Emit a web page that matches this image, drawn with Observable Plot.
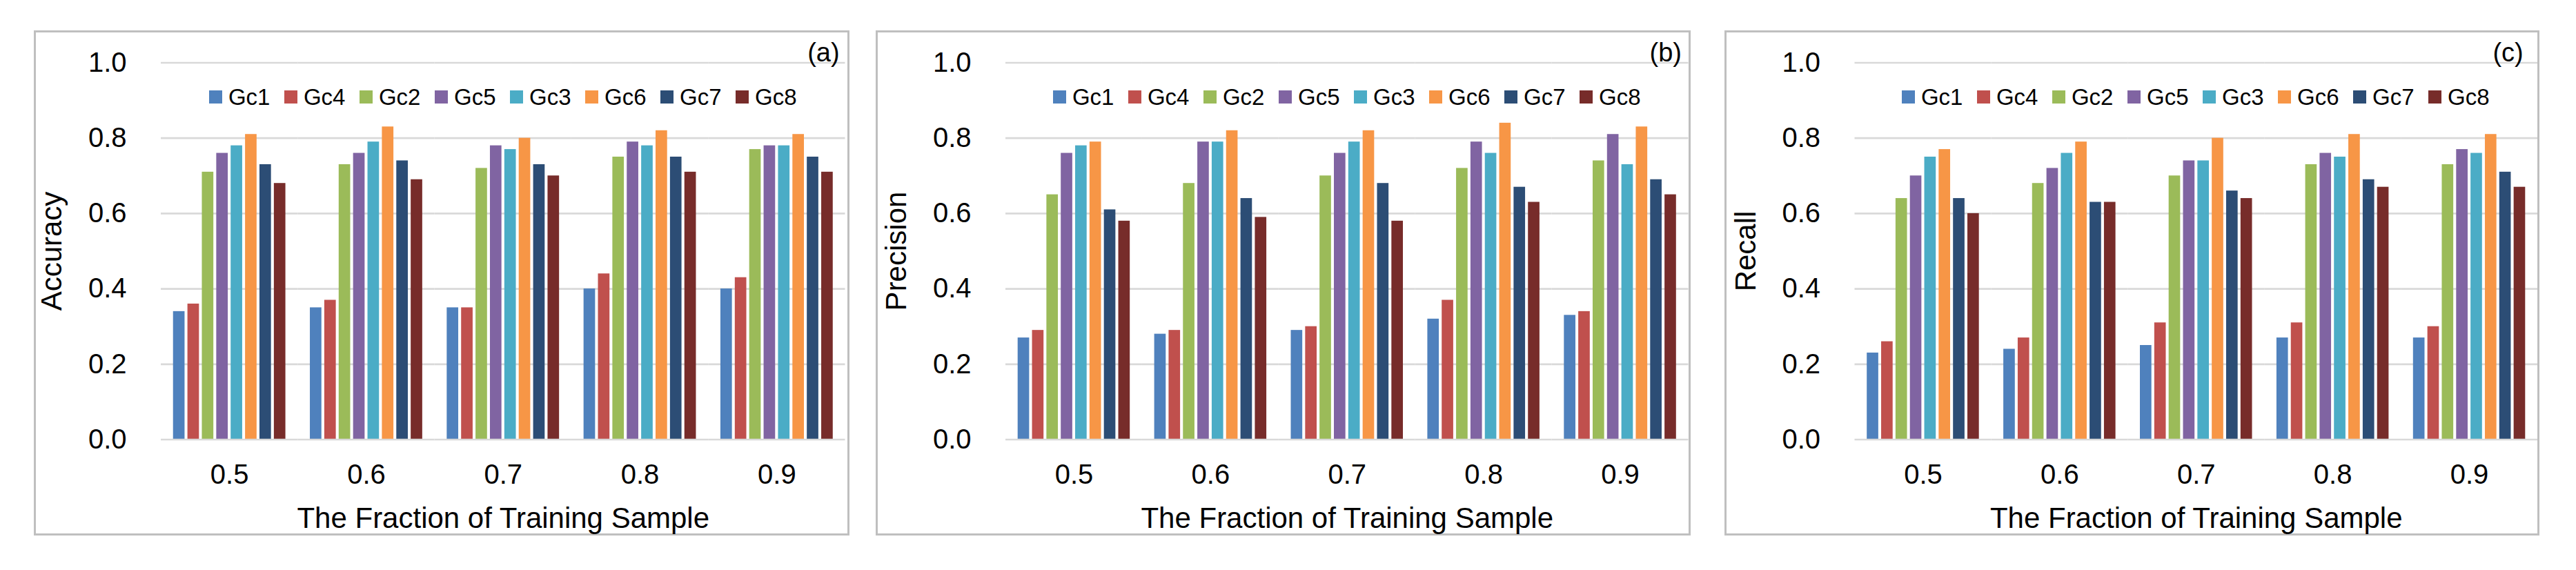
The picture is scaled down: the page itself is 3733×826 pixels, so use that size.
<!DOCTYPE html>
<html><head><meta charset="utf-8">
<script src="https://cdn.jsdelivr.net/npm/d3@7"></script>
<script src="https://cdn.jsdelivr.net/npm/@observablehq/plot@0.6"></script>
<style>
html,body{margin:0;padding:0;background:#fff;}
body{width:3733px;height:826px;position:relative;overflow:hidden;font-family:"Liberation Sans",Arial,sans-serif;color:#000;}
.panel{position:absolute;top:44px;height:732px;border:3px solid #bfbfbf;box-sizing:border-box;}
.panel svg{display:block;}
.legend{position:absolute;display:flex;justify-content:center;align-items:center;height:33px;font-size:33px;line-height:1;white-space:nowrap;}
.item{display:flex;align-items:center;margin-right:20.5px;}
.item:last-child{margin-right:0;}
.sw{width:19px;height:19px;margin-right:9px;}
.tag{position:absolute;font-size:38px;line-height:1;}
</style></head><body>
<script>
const fractions = ["0.5", "0.6", "0.7", "0.8", "0.9"];
const series = ["Gc1", "Gc4", "Gc2", "Gc5", "Gc3", "Gc6", "Gc7", "Gc8"];
const colors = ["#4F81BD", "#C0504D", "#9BBB59", "#8064A2", "#4BACC6", "#F79646", "#2C4D75", "#772C2A"];
const yTicks = [0, 0.2, 0.4, 0.6, 0.8, 1.0];

// rows: fraction 0.5 .. 0.9 ; columns in series order
const accuracy = [
  [0.34, 0.36, 0.71, 0.76, 0.78, 0.81, 0.73, 0.68],
  [0.35, 0.37, 0.73, 0.76, 0.79, 0.83, 0.74, 0.69],
  [0.35, 0.35, 0.72, 0.78, 0.77, 0.80, 0.73, 0.70],
  [0.40, 0.44, 0.75, 0.79, 0.78, 0.82, 0.75, 0.71],
  [0.40, 0.43, 0.77, 0.78, 0.78, 0.81, 0.75, 0.71]
];
const precision = [
  [0.27, 0.29, 0.65, 0.76, 0.78, 0.79, 0.61, 0.58],
  [0.28, 0.29, 0.68, 0.79, 0.79, 0.82, 0.64, 0.59],
  [0.29, 0.30, 0.70, 0.76, 0.79, 0.82, 0.68, 0.58],
  [0.32, 0.37, 0.72, 0.79, 0.76, 0.84, 0.67, 0.63],
  [0.33, 0.34, 0.74, 0.81, 0.73, 0.83, 0.69, 0.65]
];
const recall = [
  [0.23, 0.26, 0.64, 0.70, 0.75, 0.77, 0.64, 0.60],
  [0.24, 0.27, 0.68, 0.72, 0.76, 0.79, 0.63, 0.63],
  [0.25, 0.31, 0.70, 0.74, 0.74, 0.80, 0.66, 0.64],
  [0.27, 0.31, 0.73, 0.76, 0.75, 0.81, 0.69, 0.67],
  [0.27, 0.30, 0.73, 0.77, 0.76, 0.81, 0.71, 0.67]
];
const metricNames = ["Accuracy", "Precision", "Recall"];
const panelTags = ["(a)", "(b)", "(c)"];
const xTitle = "The Fraction of Training Sample";
const metricValues = [accuracy, precision, recall];

// layout (pixels)
const layout = [
  {left: 49, width: 1182, marginLeft: 181, marginRight: 3.5, tagRight: 11.4},
  {left: 1269, width: 1181, marginLeft: 185, marginRight: 0.5, tagRight: 10},
  {left: 2498.5, width: 1181, marginLeft: 185.5, marginRight: 0, tagRight: 19.8}
];
const BORDER = 3, H = 726, MT = 43.5, MB = 136.5;
const FONT = '"Liberation Sans", Arial, sans-serif';

layout.forEach((L, k) => {
  const values = metricValues[k];
  const rows = fractions.flatMap((f, i) => series.map((s, j) => ({fraction: f, series: s, value: values[i][j]})));
  const innerW = L.width - 2 * BORDER;
  const plotW = innerW - L.marginLeft - L.marginRight;

  const chart = Plot.plot({
    width: innerW,
    height: H,
    marginTop: MT,
    marginBottom: MB,
    marginLeft: L.marginLeft,
    marginRight: L.marginRight,
    style: {fontFamily: FONT, fontSize: "40px", color: "#000", background: "transparent", overflow: "visible"},
    fx: {domain: fractions, paddingInner: 0, paddingOuter: 0, round: false},
    x: {domain: series, paddingInner: 0.2, paddingOuter: 0.85, round: false, axis: null},
    y: {domain: [0, 1]},
    color: {domain: series, range: colors},
    marks: [
      Plot.ruleY(yTicks.filter(t => t > 0), {stroke: "#d9d9d9", strokeWidth: 2.7}),
      Plot.barY(rows, {fx: "fraction", x: "series", y: "value", fill: "series"}),
      Plot.ruleY([0], {stroke: "#d9d9d9", strokeWidth: 2.7}),
      Plot.axisY({ticks: yTicks, tickFormat: d3.format(".1f"), tickSize: 0, tickPadding: 50, label: null, fontSize: 40}),
      Plot.axisY({ticks: [], label: metricNames[k], labelArrow: "none", labelAnchor: "center", labelOffset: 174, fontSize: 42}),
      Plot.axisFx({anchor: "bottom", tickSize: 0, tickPadding: 35.5, label: null, fontSize: 40}),
      Plot.axisFx({anchor: "bottom", ticks: [], label: xTitle, labelArrow: "none", labelAnchor: "center", labelOffset: 128, fontSize: 42})
    ]
  });

  const panel = document.createElement("div");
  panel.className = "panel";
  panel.style.left = L.left + "px";
  panel.style.width = L.width + "px";
  panel.appendChild(chart);

  const legend = document.createElement("div");
  legend.className = "legend";
  legend.style.left = L.marginLeft + "px";
  legend.style.width = plotW + "px";
  legend.style.top = "76.5px";
  series.forEach((s, j) => {
    const item = document.createElement("div");
    item.className = "item";
    const sw = document.createElement("span");
    sw.className = "sw";
    sw.style.background = colors[j];
    const tx = document.createElement("span");
    tx.textContent = s;
    item.appendChild(sw);
    item.appendChild(tx);
    legend.appendChild(item);
  });
  panel.appendChild(legend);

  const tag = document.createElement("div");
  tag.className = "tag";
  tag.style.right = L.tagRight + "px";
  tag.style.top = "10.2px";
  tag.textContent = panelTags[k];
  panel.appendChild(tag);

  document.body.appendChild(panel);
});
</script>
</body></html>
